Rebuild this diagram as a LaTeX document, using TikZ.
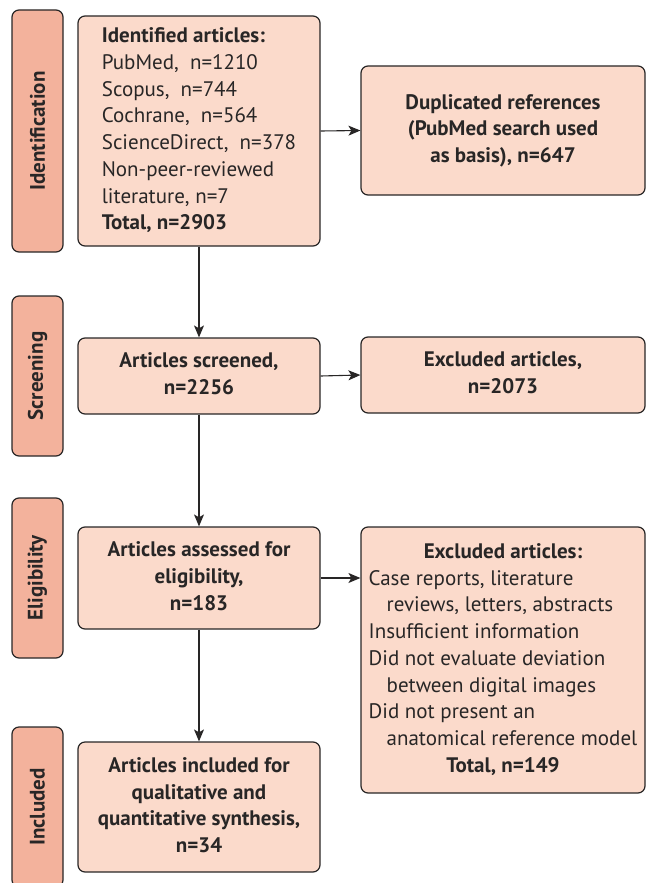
\documentclass[tikz,border=0pt]{standalone}
\usepackage{fontspec}
\setmainfont{PT Sans}
\usepackage{tikz}
\usetikzlibrary{arrows,arrows.meta,shapes,positioning}
\usepackage{xcolor}
\definecolor{prbar}{RGB}{243,178,156}
\definecolor{prbox}{RGB}{251,218,203}
\definecolor{prline}{RGB}{40,38,38}
\tikzstyle{arrow} = [line width=1.1pt,->,>={Stealth[length=12pt,width=10pt,inset=3pt]},color=prline]
\tikzstyle{stepbox} = [rectangle, rounded corners=7pt, minimum width=242pt, inner sep=0pt, text centered, draw=prline, fill=prbox, line width=1.2pt, text=prline, font=\fontsize{21}{26.7}\selectfont]
\tikzstyle{phase} = [rectangle, rounded corners=7pt, minimum height=51pt, inner sep=0pt, draw=prline, fill=prbar, line width=1.2pt, rotate=90, text=prline, font=\bfseries\fontsize{21}{26.7}\selectfont]

\begin{document}
\begin{tikzpicture}[x=1pt, y=-1pt]
\clip (0,0) rectangle (646,883);
\useasboundingbox (0,0) rectangle (646,883);

% Phase bars
\node (identbar) [phase, minimum width=242pt] at (37.5,131) {Identification};
\node (screenbar) [phase, minimum width=160pt] at (37.5,376) {Screening};
\node (eligbar) [phase, minimum width=160pt] at (37.5,578) {Eligibility};
\node (inclbar) [phase, minimum width=160pt] at (37.5,807) {Included};

% Identification
\node (identified) [stepbox, minimum height=230pt] at (199,131) {
\begin{tabular}{@{}l@{}}
\textbf{Identified articles:}\\
PubMed,\ \ n=1210\\
Scopus,\ \ n=744\\
Cochrane,\ \ n=564\\
ScienceDirect,\ \ n=378\\
Non-peer-reviewed\\
literature, n=7\\
\textbf{Total, n=2903}
\end{tabular}
};

\node (duplicated) [stepbox, minimum width=284pt, minimum height=129pt] at (503,130.5) {
\begin{tabular}{c}
\textbf{Duplicated references}\\
\textbf{(PubMed search used}\\
\textbf{as basis), n=647}
\end{tabular}
};

% Screening
\node (screened) [stepbox, minimum height=76pt] at (199,376) {
\begin{tabular}{c}
\textbf{Articles screened,}\\
\textbf{n=2256}
\end{tabular}
};

\node (excluded) [stepbox, minimum width=284pt, minimum height=76pt] at (503,375) {
\begin{tabular}{c}
\textbf{Excluded articles,}\\
\textbf{n=2073}
\end{tabular}
};

% Eligibility
\node (assessed) [stepbox, minimum height=102pt] at (199,578) {
\begin{tabular}{c}
\textbf{Articles assessed for}\\
\textbf{eligibility,}\\
\textbf{n=183}
\end{tabular}
};

\node (excludedfull) [stepbox, minimum width=284pt, minimum height=266pt] at (503,660) {
\begin{tabular}{@{}l@{}}
\multicolumn{1}{@{}c@{}}{\textbf{Excluded articles:}}\\
Case reports, literature\\
\hspace{18pt}reviews, letters, abstracts\\
Insufficient information\\
Did not evaluate deviation\\
\hspace{18pt}between digital images\\
Did not present an\\
\hspace{18pt}anatomical reference model\\
\multicolumn{1}{@{}c@{}}{\textbf{Total, n=149}}
\end{tabular}
};

% Included
\node (included) [stepbox, minimum height=130pt] at (199,807) {
\begin{tabular}{c}
\textbf{Articles included for}\\
\textbf{qualitative and}\\
\textbf{quantitative synthesis,}\\
\textbf{n=34}
\end{tabular}
};

% Arrows
\draw [arrow] (identified) -- (screened);
\draw [arrow] (screened) -- (assessed);
\draw [arrow] (assessed) -- (included);
\draw [arrow] (identified.east) -- (duplicated.west);
\draw [arrow] (screened.east) -- (excluded.west);
\draw [arrow] (assessed.east) -- (assessed.east -| excludedfull.west);

\end{tikzpicture}
\end{document}
